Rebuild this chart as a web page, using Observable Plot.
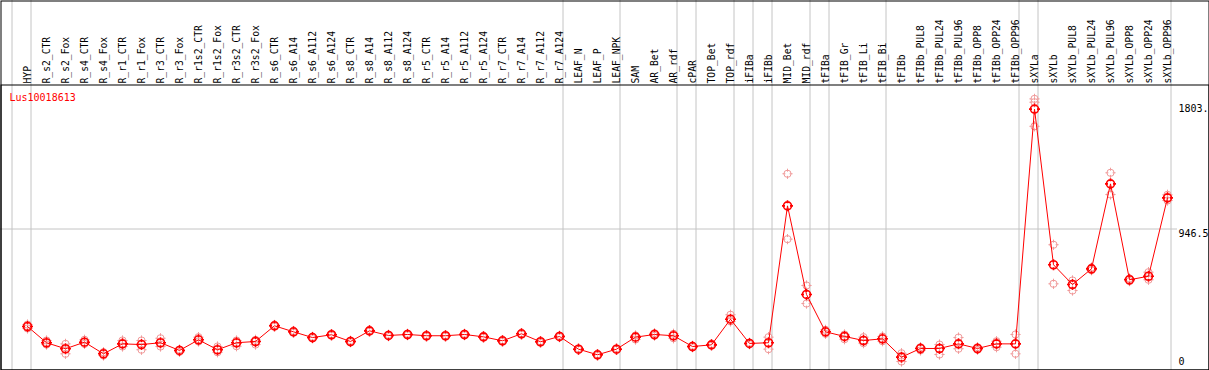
<!DOCTYPE html>
<html>
<head>
<meta charset="utf-8">
<script src="https://cdn.jsdelivr.net/npm/d3@7"></script>
<script src="https://cdn.jsdelivr.net/npm/@observablehq/plot@0.6"></script>
<style>
  html, body { margin: 0; padding: 0; background: #fff; }
  #chart svg { display: block; }
</style>
</head>
<body>
<div id="chart"></div>
<script>
// ---- data ----
const geneId = "Lus10018613";

const categories = [
  "HYP","R_s2_CTR","R_s2_Fox","R_s4_CTR","R_s4_Fox","R_r1_CTR","R_r1_Fox","R_r3_CTR","R_r3_Fox",
  "R_r1s2_CTR","R_r1s2_Fox","R_r3s2_CTR","R_r3s2_Fox","R_s6_CTR","R_s6_A14","R_s6_A112","R_s6_A124",
  "R_s8_CTR","R_s8_A14","R_s8_A112","R_s8_A124","R_r5_CTR","R_r5_A14","R_r5_A112","R_r5_A124",
  "R_r7_CTR","R_r7_A14","R_r7_A112","R_r7_A124","LEAF_N","LEAF_P","LEAF_NPK","SAM","AR_Bet","AR_rdf",
  "cPAR","TOP_Bet","TOP_rdf","iFIBa","iFIBb","MID_Bet","MID_rdf","tFIBa","tFIB_Gr","tFIB_Li","tFIB_Bi",
  "tFIBb","tFIBb_PUL8","tFIBb_PUL24","tFIBb_PUL96","tFIBb_OPP8","tFIBb_OPP24","tFIBb_OPP96",
  "sXYLa","sXYLb","sXYLb_PUL8","sXYLb_PUL24","sXYLb_PUL96","sXYLb_OPP8","sXYLb_OPP24","sXYLb_OPP96"
];

const meanValues = [
  250,134,91,138,55,126,121,134,79,155,84,134,143,255,212,171,191,143,219,186,193,184,184,193,176,
  148,198,141,179,88,48,88,174,193,184,107,119,302,129,134,1112,479,212,179,150,162,
  31,93,93,126,93,126,126,
  1803,691,550,662,1269,584,609,1169
];

const replicate1 = [
  264,150,126,155,66,150,150,166,85,174,107,150,155,261,218,176,195,148,224,191,198,188,188,198,181,
  152,202,145,184,93,52,93,186,202,198,112,124,334,134,174,1341,543,226,193,174,179,
  59,102,121,171,102,145,193,
  1876,834,579,671,1348,593,638,1191
];

const replicate2 = [
  236,121,55,126,43,107,84,107,69,143,66,109,121,250,207,166,186,138,214,181,188,179,179,188,171,
  143,193,136,174,84,43,84,157,184,166,102,114,286,124,88,874,414,198,159,131,145,
  0,79,50,91,84,102,55,
  1852,555,507,652,1193,574,584,1150
];

// third replicate only present for sXYLa
const replicate3 = { sXYLa: 1680 };

// columns after which a grey separator is drawn
const groupEnds = ["HYP","R_r7_A124","LEAF_NPK","AR_rdf","cPAR","TOP_rdf","iFIBa","iFIBb",
  "MID_rdf","tFIBa","tFIB_Bi","tFIBb_OPP96","sXYLa","sXYLb_OPP96"];

const scaleMax = 1893;
const tickValues = [1803, 946.5, 0];
const tickLabels = ["1803.", "946.5", "0"];

// ---- tables ----
const means = categories.map((c, i) => ({cat: c, value: meanValues[i]}));
const reps = [];
categories.forEach((c, i) => {
  reps.push({cat: c, value: replicate1[i]});
  reps.push({cat: c, value: replicate2[i]});
  if (replicate3[c] != null) reps.push({cat: c, value: replicate3[c]});
});
const ticks = tickValues.map((v, i) => ({value: v, label: tickLabels[i]}));

// circle with small crosshair stubs
const crossCircle = {
  draw(ctx, size) {
    const r = Math.sqrt(size / Math.PI);
    ctx.moveTo(r, 0);
    ctx.arc(0, 0, r, 0, 2 * Math.PI);
    const a = r - 1.5, b = r + 1.5;
    ctx.moveTo(0, -a); ctx.lineTo(0, -b);
    ctx.moveTo(0, a); ctx.lineTo(0, b);
    ctx.moveTo(-a, 0); ctx.lineTo(-b, 0);
    ctx.moveTo(a, 0); ctx.lineTo(b, 0);
  }
};

const mono = "DejaVu Sans Mono";
const grey = "#c4c4c4";

const chart = Plot.plot({
  width: 1209,
  height: 370,
  marginTop: 0, marginRight: 0, marginBottom: 0, marginLeft: 0,
  style: {background: "#fff", fontFamily: mono},
  x: {type: "point", domain: categories, range: [26.7, 1166.7], padding: 0, axis: null},
  y: {domain: [0, scaleMax], range: [361, 96], axis: null},
  marks: [
    // grid
    Plot.ruleY([scaleMax / 2], {stroke: grey, insetRight: 32}),
    Plot.ruleX(["HYP"], {x: d => d, dx: -15.5, stroke: grey}),
    Plot.ruleX(groupEnds, {x: d => d, dx: 3.5, stroke: grey}),
    // frame & header separator
    Plot.frame({stroke: "black", insetTop: 84.5, insetLeft: 0.5, insetRight: 0.5, insetBottom: 0.5}),
    Plot.frame({stroke: "black", inset: 0.5}),
    // header labels
    Plot.text(categories, {
      x: d => d, text: d => d, frameAnchor: "top", dy: 83,
      rotate: -90, textAnchor: "start", lineAnchor: "middle",
      fontSize: 9.7, fontFamily: mono, fill: "black"
    }),
    // gene id
    Plot.text([geneId], {
      text: d => d, frameAnchor: "top-left", dx: 9, dy: 97.5,
      textAnchor: "start", lineAnchor: "middle", fontSize: 10, fontFamily: mono, fill: "red"
    }),
    // right tick labels
    Plot.text(ticks.filter(t => t.value !== scaleMax / 2), {
      y: "value", text: "label", frameAnchor: "left", dx: 1178,
      textAnchor: "start", lineAnchor: "middle", fontSize: 10, fontFamily: mono, fill: "black"
    }),
    Plot.text(ticks.filter(t => t.value === scaleMax / 2), {
      y: "value", text: "label", frameAnchor: "left", dx: 1178, dy: 0.5,
      textAnchor: "start", lineAnchor: "top", fontSize: 10, fontFamily: mono, fill: "black"
    }),
    // replicates
    Plot.dot(reps, {x: "cat", y: "value", r: 3.6, symbol: crossCircle, stroke: "#f09a9a", strokeWidth: 1, fill: "none"}),
    // mean line & points
    Plot.line(means, {x: "cat", y: "value", stroke: "red", strokeWidth: 1}),
    Plot.dot(means, {x: "cat", y: "value", r: 4, symbol: crossCircle, stroke: "red", strokeWidth: 1.6, fill: "none"})
  ]
});

document.getElementById("chart").appendChild(chart);
</script>
</body>
</html>
